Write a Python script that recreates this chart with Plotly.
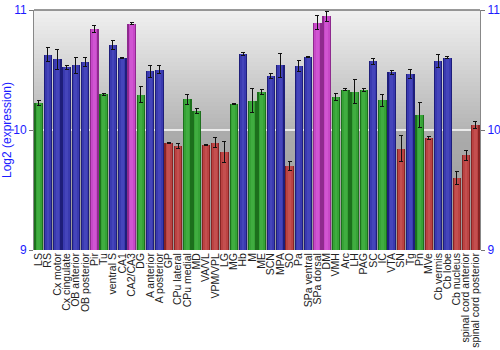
import plotly.graph_objects as go

regions = ["LS", "RS", "Cx motor", "Cx cingulate", "OB anterior", "OB posterior", "Pir", "Tu",
           "ventral S", "CA1", "CA2/CA3", "DG", "A anterior", "A posterior", "GP", "CPu lateral",
           "CPu medial", "MD", "VA/VL", "VPM/VPL", "LG", "MG", "Hb", "M", "ME", "SCN", "MPA",
           "SO", "Pa", "SPa ventral", "SPa dorsal", "DM", "VMH", "Arc", "LH", "PAG", "SC", "IC",
           "VTA", "SN", "Tg", "Pn", "MVe", "Cb vermis", "Cb lobe", "Cb nucleus",
           "spinal cord anterior", "spinal cord posterior"]

expression = [10.228, 10.629, 10.588, 10.521, 10.540, 10.565, 10.839, 10.297,
              10.709, 10.602, 10.884, 10.295, 10.488, 10.502, 9.890, 9.866,
              10.256, 10.162, 9.874, 9.893, 9.816, 10.220, 10.632, 10.245,
              10.316, 10.449, 10.538, 9.700, 10.532, 10.610, 10.895, 10.947,
              10.275, 10.336, 10.320, 10.333, 10.571, 10.247, 10.480, 9.843,
              10.469, 10.125, 9.932, 10.579, 10.604, 9.597, 9.788, 10.042]

errors = [0.022, 0.058, 0.083, 0.020, 0.065, 0.039, 0.028, 0.011,
          0.039, 0.005, 0.008, 0.065, 0.050, 0.033, 0.005, 0.020,
          0.041, 0.021, 0.005, 0.041, 0.086, 0.004, 0.010, 0.100,
          0.018, 0.018, 0.100, 0.036, 0.046, 0.004, 0.061, 0.043,
          0.029, 0.006, 0.098, 0.010, 0.021, 0.048, 0.018, 0.108,
          0.036, 0.108, 0.014, 0.054, 0.005, 0.055, 0.039, 0.030]

groups = ["g", "b", "b", "b", "b", "b", "m", "g",
          "b", "b", "m", "g", "b", "b", "r", "r",
          "g", "g", "r", "r", "r", "g", "b", "g",
          "g", "b", "b", "r", "b", "b", "m", "m",
          "g", "g", "g", "g", "b", "g", "b", "r",
          "b", "g", "r", "b", "b", "r", "r", "r"]

edge_colors = {"g": "#1c701c", "b": "#1e1e7a", "m": "#8e2a8e", "r": "#872424"}
mid_colors = {"g": "#36a336", "b": "#3a3ab0", "m": "#c748c8", "r": "#bb4343"}
core_colors = {"g": "#40ad40", "b": "#4545bb", "m": "#d055d2", "r": "#c44f4f"}

fig = go.Figure()

# Layered bars give each column a shaded, rounded look
fig.add_trace(go.Bar(x=regions, y=[v - 9 for v in expression], base=9, width=0.92,
                     marker=dict(color=[edge_colors[g] for g in groups], line=dict(width=0)),
                     hoverinfo="skip", showlegend=False))
fig.add_trace(go.Bar(x=regions, y=[v - 9 for v in expression], base=9, width=0.66,
                     marker=dict(color=[mid_colors[g] for g in groups], line=dict(width=0)),
                     hoverinfo="skip", showlegend=False))
fig.add_trace(go.Bar(x=regions, y=[v - 9 for v in expression], base=9, width=0.3,
                     marker=dict(color=[core_colors[g] for g in groups], line=dict(width=0)),
                     error_y=dict(type="data", array=errors, color="#111111", thickness=1, width=2),
                     showlegend=False))
# invisible trace to carry the right-hand axis
fig.add_trace(go.Scatter(x=[regions[0]], y=[10], yaxis="y2", mode="markers",
                         marker=dict(opacity=0), hoverinfo="skip", showlegend=False))

# Background shading: light at the top, darker toward the baseline
shapes = []
steps = 60
for i in range(steps):
    y0 = 9 + 2 * i / steps
    y1 = 9 + 2 * (i + 1) / steps
    t = (y0 + y1) / 2 - 9  # 0..2
    if t >= 1:
        f = (t - 1)  # 0 at 10, 1 at 11
        c = int(180 + f * (242 - 180))
    else:
        c = int(152 + t * (172 - 152))
    shapes.append(dict(type="rect", xref="paper", yref="y", x0=0, x1=1, y0=y0, y1=y1,
                       fillcolor=f"rgb({c},{c},{c})", line=dict(width=0), layer="below"))
shapes.append(dict(type="line", xref="paper", yref="y", x0=0, x1=1, y0=10, y1=10,
                   line=dict(color="white", width=1.5), layer="below"))
shapes.append(dict(type="line", xref="paper", yref="paper", x0=0, x1=1, y0=1, y1=1,
                   line=dict(color="#777777", width=1.5)))

tick_font = dict(family="Liberation Sans, Arial, sans-serif", size=12, color="#1a1aff")

fig.update_layout(
    width=500, height=350,
    margin=dict(l=34, r=20, t=10, b=100),
    paper_bgcolor="white", plot_bgcolor="rgba(0,0,0,0)",
    barmode="overlay", bargap=0,
    shapes=shapes,
    xaxis=dict(tickangle=-90, tickmode="array", tickvals=regions, ticktext=regions,
               tickfont=dict(family="Liberation Sans, Arial, sans-serif",
                             size=10.5, color="#222222"),
               showgrid=False, ticks="", showline=False, range=[-0.5, 47.5],
               automargin=False),
    yaxis=dict(range=[9, 11], tickvals=[9, 10, 11], showgrid=False, zeroline=False,
               tickfont=tick_font, ticks="outside", ticklen=4, tickcolor="#777777",
               showline=True, linecolor="#888888", linewidth=1, automargin=False,
               title=dict(text="Log2 (expression)", font=tick_font, standoff=2)),
    yaxis2=dict(range=[9, 11], tickvals=[9, 10, 11], overlaying="y", side="right",
                showgrid=False, zeroline=False, tickfont=tick_font, ticks="outside",
                ticklen=4, tickcolor="#777777", showline=True, linecolor="#888888",
                linewidth=1, automargin=False),
)

fig.write_html("out.html")
